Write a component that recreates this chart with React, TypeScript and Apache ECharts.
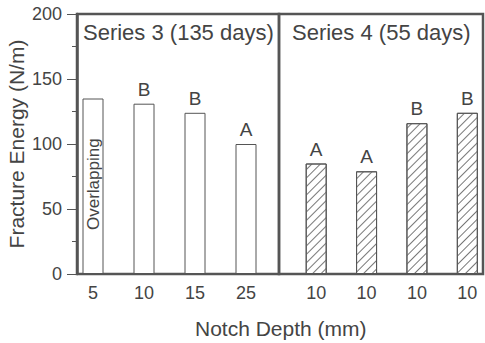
import React, { useEffect, useRef } from "react";
import * as echarts from "echarts";

const categoriesLeft = ["5", "10", "15", "25"];
const categoriesRight = ["10", "10", "10", "10"];
const valuesLeft = [135, 131, 124, 100];
const valuesRight = [85, 79, 116, 124];
const lettersLeft = ["", "B", "B", "A"];
const lettersRight = ["A", "A", "B", "B"];
const panelTitles = ["Series 3 (135 days)", "Series 4 (55 days)"];
const firstBarNote = "Overlapping";
const yAxisName = "Fracture Energy (N/m)";
const xAxisName = "Notch Depth (mm)";
const yMin = 0;
const yMax = 200;
const yInterval = 50;

const FONT = "Liberation Sans";
const TXT = "#444";
const LINE = "#555";

export default function App() {
  const ref = useRef<HTMLDivElement>(null);
  useEffect(() => {
    if (!ref.current) return;
    const chart = echarts.init(ref.current, null, { renderer: "svg" });
    const top = 14;
    const height = 260;
    const hiddenY = (gridIndex: number) => ({
      type: "value",
      gridIndex,
      min: yMin,
      max: yMax,
      interval: yInterval,
      show: false,
    });
    const barX = (gridIndex: number, data: string[]) => ({
      type: "category",
      gridIndex,
      data,
      axisLine: { show: false },
      axisTick: { show: false },
      splitArea: { show: false },
      splitLine: { show: false },
      axisLabel: { fontSize: 18, color: TXT, fontFamily: FONT, margin: 10 },
    });
    const letterLabel = (letters: string[]) => ({
      show: true,
      position: "top",
      distance: 5,
      fontSize: 19,
      color: TXT,
      fontFamily: FONT,
      formatter: (p: any) => letters[p.dataIndex],
    });
    const leftData: any[] = valuesLeft.map((v, i) =>
      i === 0
        ? {
            value: v,
            label: {
              show: true,
              position: "insideBottom",
              distance: 44,
              rotate: 90,
              align: "left",
              verticalAlign: "middle",
              fontSize: 17,
              color: TXT,
              fontFamily: FONT,
              formatter: firstBarNote,
            },
          }
        : v
    );
    const g = { outerBoundsMode: "none", containLabel: false };
    const titleStyle = { fontSize: 22, fontWeight: "normal", color: TXT, fontFamily: FONT };
    chart.setOption({
      animation: false,
      backgroundColor: "#fff",
      title: [
        { text: panelTitles[0], left: 78, top: 16, textStyle: titleStyle },
        { text: panelTitles[1], left: 287, top: 16, textStyle: titleStyle },
        { text: xAxisName, left: 190, top: 313, textStyle: { ...titleStyle, fontSize: 21 } },
      ],
      grid: [
        { ...g, left: 77, top, width: 202, height, show: true, borderColor: LINE, borderWidth: 2.5 },
        { ...g, left: 279, top, width: 204, height, show: true, borderColor: LINE, borderWidth: 2.5 },
        { ...g, left: 67.5, top, width: 204, height },
        { ...g, left: 291, top, width: 201.5, height },
      ],
      xAxis: [
        { type: "value", gridIndex: 0, min: 0, max: 1, show: false },
        { type: "value", gridIndex: 1, min: 0, max: 1, show: false },
        barX(2, categoriesLeft),
        barX(3, categoriesRight),
      ],
      yAxis: [
        {
          type: "value",
          gridIndex: 0,
          min: yMin,
          max: yMax,
          interval: yInterval,
          position: "left",
          axisLine: { show: true, onZero: false, lineStyle: { color: LINE, width: 2.5 } },
          axisTick: { show: true, length: 10, lineStyle: { color: LINE, width: 1 } },
          minorTick: { show: true, splitNumber: 2, length: 5, lineStyle: { color: LINE, width: 1 } },
          splitLine: { show: false },
          axisLabel: { fontSize: 18, color: TXT, fontFamily: FONT, margin: 15 },
          name: yAxisName,
          nameLocation: "middle",
          nameGap: 50,
          nameTextStyle: { fontSize: 21, color: TXT, fontFamily: FONT },
        },
        hiddenY(1),
        hiddenY(2),
        hiddenY(3),
      ],
      series: [
        {
          type: "bar",
          xAxisIndex: 2,
          yAxisIndex: 2,
          data: leftData,
          barWidth: 21,
          itemStyle: { color: "#fff", borderColor: LINE, borderWidth: 1 },
          label: letterLabel(lettersLeft),
        },
        {
          type: "bar",
          xAxisIndex: 3,
          yAxisIndex: 3,
          data: valuesRight,
          barWidth: 21,
          itemStyle: {
            color: "#fff",
            borderColor: LINE,
            borderWidth: 1,
            decal: {
              symbol: "rect",
              symbolSize: 1,
              dashArrayX: [1, 0],
              dashArrayY: [1, 5],
              rotation: -Math.PI / 4,
              color: "#777",
            },
          },
          label: letterLabel(lettersRight),
        },
      ],
    });
    return () => chart.dispose();
  }, []);
  return (
    <div
      ref={ref}
      style={{ position: "fixed", left: 0, top: 0, width: 485, height: 343 }}
    />
  );
}
